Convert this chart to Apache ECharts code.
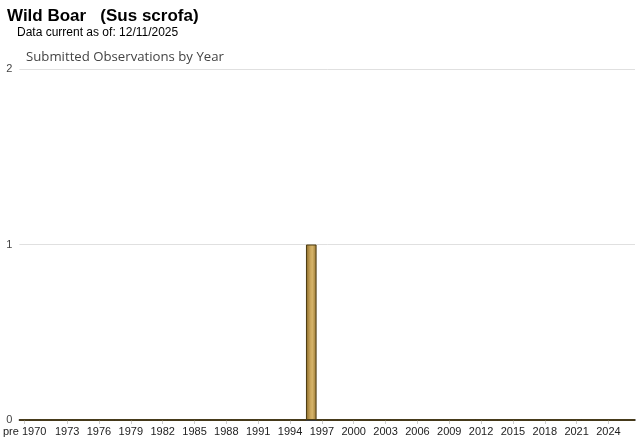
<!DOCTYPE html>
<html>
<head>
<meta charset="utf-8">
<script src="https://cdn.jsdelivr.net/npm/echarts@6/dist/echarts.min.js"></script>
<style>
html,body{margin:0;padding:0;background:#fff;}
#chart{width:640px;height:442px;}
</style>
</head>
<body>
<div id="chart"></div>
<script>
// Data
var categories = ['pre 1970'];
for (var y = 1970; y <= 2026; y++) categories.push(String(y));
var observedYears = ['1996'];
var observedCounts = [1];
var yTicks = [0, 1, 2];

var values = categories.map(function (c) {
  var i = observedYears.indexOf(c);
  return i >= 0 ? observedCounts[i] : 0;
});

function showLabel(index) {
  return index === 0 || (index > 1 && (index - 1) % 3 === 0);
}

var chart = echarts.init(document.getElementById('chart'));
chart.setOption({
  animation: false,
  backgroundColor: '#ffffff',
  title: [
    {
      text: 'Wild Boar   (Sus scrofa)',
      left: 7, top: 8, padding: 0,
      textStyle: {fontFamily: 'Liberation Sans, Arial', fontSize: 17, fontWeight: 'bold', color: '#000'}
    },
    {
      text: 'Data current as of: 12/11/2025',
      left: 17, top: 27, padding: 0,
      textStyle: {fontFamily: 'Liberation Sans, Arial', fontSize: 12, fontWeight: 'normal', color: '#000'}
    },
    {
      text: 'Submitted Observations by Year',
      left: 26, top: 51, padding: 0,
      textStyle: {fontFamily: 'Open Sans, DejaVu Sans', fontSize: 13.2, fontWeight: 'normal', color: '#444'}
    }
  ],
  grid: {left: 17, right: 5, top: 69, bottom: 22, containLabel: false},
  xAxis: {
    type: 'category',
    data: categories,
    axisLine: {show: true, lineStyle: {color: '#000', width: 1.5}},
    axisTick: {show: true, alignWithLabel: true, interval: function (i) { return showLabel(i); }, length: 4, lineStyle: {color: '#ccc'}},
    axisLabel: {
      interval: function (i) { return showLabel(i); },
      fontFamily: 'Liberation Sans, Arial', fontSize: 11, color: '#222', margin: 6
    }
  },
  yAxis: {
    type: 'value',
    min: 0, max: 2, interval: 1,
    axisLine: {show: false},
    axisTick: {show: false},
    axisLabel: {fontFamily: 'Liberation Sans, Arial', fontSize: 11, color: '#444', margin: 7},
    splitLine: {lineStyle: {color: '#e0e0e0', width: 1}}
  },
  series: [{
    type: 'bar',
    data: values,
    barCategoryGap: '0%',
    itemStyle: {
      color: new echarts.graphic.LinearGradient(0, 0, 1, 0, [
        {offset: 0, color: '#876726'},
        {offset: 0.4, color: '#c9a55a'},
        {offset: 0.6, color: '#d6b46a'},
        {offset: 1, color: '#977632'}
      ]),
      borderColor: '#4a3a10',
      borderWidth: 1
    }
  }]
});
</script>
</body>
</html>
